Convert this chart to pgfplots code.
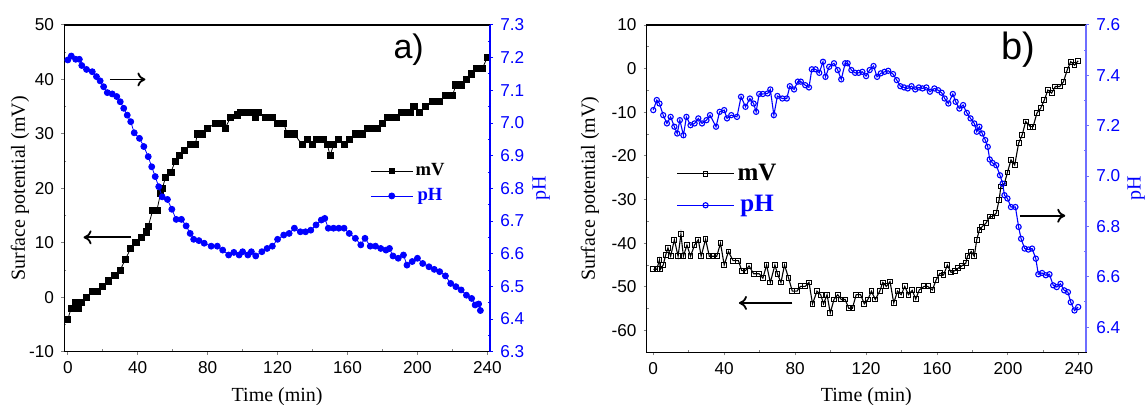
\documentclass[border=0pt]{standalone}
\usepackage{fontspec}
\setmainfont{Liberation Serif}
\newfontfamily\arial{Liberation Sans}
\usepackage{pgfplots}
\pgfplotsset{compat=1.18}
\usetikzlibrary{arrows.meta}

\definecolor{phblue}{RGB}{0,0,255}
\definecolor{spineb}{RGB}{110,110,255}

\tikzset{arr/.style={-{To[length=4pt,width=7pt]}, line width=0.9pt}}

\pgfplotsset{
  base/.style={
    scale only axis, anchor=south west,
    tick align=outside, major tick length=1.6pt, minor tick length=-1.1pt,
    minor tick num=1,
    tick style={line width=0.5pt},
    axis line style={line width=0.6pt},
    /pgf/number format/assume math mode=true,
    tick label style={font=\arial\fontsize{8.6}{10}\selectfont},
    label style={font=\fontsize{9.6}{11}\selectfont},
  },
  leftax/.style={base, xtick pos=bottom, ytick pos=left,
    xtick={0,40,...,240}},
  rightax/.style={base, axis x line=none, axis y line*=right,
    y axis line style={#1},
    ytick style={#1}, yticklabel style={phblue,
      /pgf/number format/.cd, fixed, fixed zerofill, precision=1}},
}

\begin{document}
\begin{tikzpicture}
\path[use as bounding box] (0,0) rectangle (573.5pt,202.5pt);

% ---------------- panel a ----------------
\begin{axis}[leftax, at={(32.15pt,26.65pt)}, width=212.85pt, height=163.35pt,
  xmin=-2, xmax=241.5, ymin=-10, ymax=50, ytick={-10,0,...,50},
  xlabel={Time (min)}, ylabel={Surface potential (mV)},
  every axis x label/.style={at={(axis description cs:0.5,-0.139)}, anchor=center},
  every axis y label/.style={at={(axis description cs:-0.104,0.5)}, rotate=90, anchor=center}]
\addplot[black, line width=0.4pt, mark=square*, mark size=1.55pt] coordinates {
(0,-4)(2,-2)(4.5,-1)(6,-2)(8,-1)(10.7,0)(14,1)(17,1)(20,2)(23,3)(27,4)(30,5)
(33,7)(36,9)(39,10)(42,11)(45,12)(46,13)(48.6,16)(51,16)(53,19)(54,20)(56,22)
(59,23)(61.5,25)(64,26)(66.5,27)(70,28)(73,28)(74,30)(77,30)(80,31)(84.5,32)
(88.6,32)(90,31)(93,33)(97,33.5)(99,34)(102,34)(105,34)(107.5,33)(109,34)(113,33)
(117,33)(120,32)(123.5,32)(125.5,30)(129.6,30)(134,28)(137,29)(140,28)(142,29)
(146,29)(148.5,28)(150,26)(152,28)(155,29)(158,28)(161,29)(164.5,30)(168.6,30)
(171.7,31)(174,31)(177,31)(180,32)(183,33)(185.5,33)(188,33)(191,34)(193.5,34)(196,34)(198,35)
(201,34)(204.5,35)(208.6,36)(212.7,36)(216,37)(220,37)(222,39)(225,39)(228,40)
(231,41)(234,42)(237,42)(240,44)};
\draw[arr] (axis cs:24,40) -- (axis cs:44.4,40);
\draw[arr] (axis cs:36.2,11) -- (axis cs:9,11);
\node[font=\arial\fontsize{17}{19}\selectfont] at (axis cs:195,45.4) {a)};
\end{axis}

\begin{axis}[rightax=phblue, at={(32.15pt,26.65pt)}, width=212.85pt, height=163.35pt,
  xmin=-2, xmax=241.5, ymin=6.3, ymax=7.3,
  ytick={6.3,6.4,6.5,6.6,6.7,6.8,6.9,7.0,7.1,7.2,7.3},
  ylabel={pH},
  every axis y label/.style={at={(axis description cs:1.12,0.5)}, rotate=90, anchor=center, text=phblue},
  legend style={at={(axis description cs:0.718,0.585)}, anchor=north west,
    draw=none, fill=none, inner sep=0pt, row sep=2.5pt,
    font=\bfseries\fontsize{9.3}{10}\selectfont,
    nodes={inner sep=1.2pt}},
  legend image code/.code={\draw[mark repeat=2, mark phase=2, #1]
    plot coordinates {(0pt,0pt) (10.5pt,0pt) (21pt,0pt)};}]
\addlegendimage{black, line width=0.4pt, mark=square*, mark size=1.3pt}
\addlegendentry{\textcolor{black}{mV}}
\addplot[phblue, line width=0.4pt, mark=*, mark size=1.5pt] coordinates {
(0,7.193)(2,7.205)(4.5,7.195)(6.6,7.195)(8,7.176)(10.7,7.164)(14,7.157)(16.4,7.142)
(18.5,7.129)(20.5,7.111)(22.6,7.093)(25.4,7.089)(28,7.081)(30,7.065)(32,7.045)
(34,7.024)(36,7.004)(38,6.970)(41,6.953)(43.5,6.928)(46,6.897)(48,6.866)(50,6.836)
(52,6.805)(54,6.774)(57,6.766)(59.5,6.736)(62,6.705)(65,6.705)(67.7,6.685)(70,6.662)
(72,6.644)(75,6.640)(78,6.632)(82,6.623)(85.5,6.623)(88.6,6.611)(92,6.596)(95,6.604)
(98,6.596)(100,6.606)(103,6.596)(105,6.606)(107.5,6.593)(111,6.606)(114,6.616)
(117,6.623)(120,6.644)(123.5,6.657)(126.6,6.662)(129.6,6.678)(133,6.667)(136,6.667)
(139,6.672)(142,6.688)(145,6.703)(147,6.708)(149,6.678)(152,6.678)(155,6.678)
(158,6.678)(161,6.662)(164.5,6.647)(167.6,6.627)(170,6.647)(173,6.623)(176,6.623)
(179,6.616)(182,6.611)(184,6.616)(186,6.593)(189,6.586)(192,6.596)(194,6.565)
(197,6.576)(200,6.586)(203,6.570)(206.6,6.560)(209.6,6.552)(212.7,6.545)(216,6.532)
(219,6.509)(222,6.499)(225,6.489)(228,6.473)(231,6.463)(233,6.443)(235,6.446)(236,6.426)};
\addlegendentry{\textcolor{phblue}{pH}}
\end{axis}

% ---------------- panel b ----------------
\begin{axis}[leftax, at={(323.35pt,26.35pt)}, width=219.65pt, height=163.65pt,
  xmin=-3.7, xmax=244, ymin=-65, ymax=10, ytick={-60,-50,...,10},
  xlabel={Time (min)}, ylabel={Surface potential (mV)},
  every axis x label/.style={at={(axis description cs:0.5,-0.137)}, anchor=center},
  every axis y label/.style={at={(axis description cs:-0.129,0.5)}, rotate=90, anchor=center}]
\addplot[black, line width=0.55pt, mark=square, mark size=1.2pt, mark options={line width=0.5pt}] coordinates {
(0,-46)(2,-46)(3.5,-43.8)(4,-46)(5.6,-45)(7,-42.7)(8.3,-41.1)(9.8,-43)(11.9,-39.2)
(14,-43)(15.6,-37.9)(17,-43)(19,-40.4)(21,-43)(23.3,-40.4)(25.4,-39.2)(27,-43)
(29.5,-39.1)(31.6,-43)(33.7,-43)(35.8,-43)(37.9,-40)(40,-45)(42.4,-41.9)(45,-44)
(48,-44)(49.9,-46.3)(52,-46.3)(54,-45.2)(56.6,-47)(59.7,-47)(61.8,-48)(63.9,-45)
(66,-49)(68.6,-45)(70,-47)(72,-49)(74,-45)(76.3,-48)(78.4,-51)(81,-51)(83,-49.9)
(85.7,-49.9)(87.8,-49)(89.8,-53.9)(92.3,-51)(94.4,-51.8)(96,-53.9)(98,-51.8)
(99.8,-56)(101.9,-52.9)(104,-51.8)(106,-52.9)(108.2,-52.9)(110.2,-54.9)(112.3,-54.9)
(114.4,-51.8)(116.9,-51.8)(119,-53.9)(121,-52.9)(123,-51)(125.2,-52.9)(127.7,-51)
(129.4,-49)(131.4,-49.9)(133.5,-48.8)(135.6,-53.7)(137.7,-51)(139.8,-51.8)(141.8,-49.9)
(143.9,-51.8)(146,-50.8)(148,-52.8)(150,-50.7)(152.7,-49.9)(154.7,-49.9)(157.4,-50.7)
(159.5,-48.4)(161.6,-46.9)(163.7,-47.3)(165.8,-45)(167.9,-46.7)(170,-46.3)(172,-45.7)
(174,-45.2)(176.2,-44.6)(177.2,-42.9)(179.3,-41.9)(181,-43)(182.4,-39.2)(183.9,-36.9)
(185.5,-36.2)(187.6,-35.4)(189.7,-33.9)(191.3,-33.9)(193.4,-33.1)(195,-30.1)(196,-27)
(198,-26.3)(199.7,-23.8)(201.7,-20.9)(203.8,-22.1)(206,-17.1)(208,-15.2)(210,-12.1)
(212.6,-13.3)(214.2,-13.3)(216.3,-10.2)(218.4,-9.1)(220.5,-7.2)(222.5,-4.9)(224.6,-5.6)
(226.7,-4.1)(229.2,-4.1)(231.3,-3)(233.4,-0.3)(235.4,1.6)(237.5,0.8)(239.6,1.8)};
\draw[arr] (axis cs:78.4,-53.7) -- (axis cs:48.3,-53.7);
\draw[arr] (axis cs:206.7,-33.7) -- (axis cs:232.3,-33.7);
\node[font=\arial\fontsize{19}{21}\selectfont] at (axis cs:206,4.3) {b)};
\end{axis}

\begin{axis}[rightax=spineb, at={(323.35pt,26.35pt)}, width=219.65pt, height=163.65pt,
  xmin=-3.7, xmax=244, ymin=6.3, ymax=7.6,
  ytick={6.4,6.6,6.8,7.0,7.2,7.4,7.6},
  ylabel={pH},
  every axis y label/.style={at={(axis description cs:1.114,0.5)}, rotate=90, anchor=center, text=phblue},
  legend style={at={(axis description cs:0.067,0.585)}, anchor=north west,
    draw=none, fill=none, inner sep=0pt, row sep=3pt,
    font=\bfseries\fontsize{12.5}{14}\selectfont,
    nodes={inner sep=1.5pt}},
  legend image code/.code={\draw[mark repeat=2, mark phase=2, #1]
    plot coordinates {(0pt,0pt) (14.25pt,0pt) (28.5pt,0pt)};}]
\addlegendimage{black, line width=0.5pt, mark=square, mark size=1.2pt, mark options={line width=0.5pt}}
\addlegendentry{\textcolor{black}{mV}}
\addplot[phblue, line width=0.55pt, mark=o, mark size=1.3pt] coordinates {
(0,7.262)(2,7.302)(3.5,7.288)(5.6,7.242)(7.7,7.209)(9.8,7.235)(11.9,7.196)(13.5,7.169)
(15,7.222)(17,7.162)(18.7,7.235)(21,7.202)(23.3,7.209)(25.4,7.229)(27.5,7.209)(30,7.222)
(32,7.242)(35.4,7.196)(37.4,7.255)(40,7.262)(41.6,7.229)(44,7.242)(47.2,7.235)(49.5,7.315)
(52,7.275)(54.5,7.308)(56.6,7.288)(58,7.255)(59.7,7.326)(61.8,7.326)(64.5,7.328)(66,7.344)
(68,7.242)(70,7.318)(72.8,7.308)(75.3,7.308)(77,7.357)(79.4,7.344)(81.5,7.375)(83.2,7.375)
(85.7,7.361)(87.8,7.352)(89.4,7.424)(91.5,7.424)(93.6,7.410)(95.7,7.454)(97.1,7.394)
(99.2,7.434)(101.9,7.448)(104,7.421)(106,7.384)(108.2,7.448)(109.6,7.448)(111.7,7.421)
(113.8,7.410)(115.8,7.410)(117.9,7.414)(120,7.397)(122,7.421)(124.2,7.437)(126.2,7.394)
(128.3,7.408)(130.4,7.414)(132.5,7.418)(135.2,7.405)(137.3,7.381)(139.3,7.357)(141.4,7.352)
(143.5,7.348)(145.6,7.357)(147.7,7.344)(149.8,7.352)(151.8,7.348)(154,7.352)(156,7.335)
(158.5,7.348)(160.6,7.341)(162.6,7.331)(164.3,7.308)(166.4,7.288)(168.9,7.326)(170.5,7.295)
(172.6,7.268)(174.7,7.282)(176.8,7.251)(178.9,7.229)(181,7.209)(182.4,7.176)(183.9,7.196)
(185.5,7.169)(187.2,7.143)(188.6,7.116)(189.7,7.066)(191.3,7.052)(193.4,7.043)(195.5,7.003)
(197,6.970)(198,6.924)(199.7,6.911)(201.7,6.877)(204.2,6.877)(206,6.798)(207.4,6.751)
(209.4,6.712)(211.5,6.708)(213.6,6.712)(215.7,6.672)(217.1,6.610)(219.2,6.615)(221.3,6.606)
(223.4,6.610)(225.5,6.566)(227.5,6.559)(229.6,6.572)(231.7,6.546)(233.8,6.539)(235.4,6.499)
(237.5,6.466)(239.6,6.480)};
\addlegendentry{\textcolor{phblue}{pH}}
\end{axis}
\end{tikzpicture}
\end{document}
